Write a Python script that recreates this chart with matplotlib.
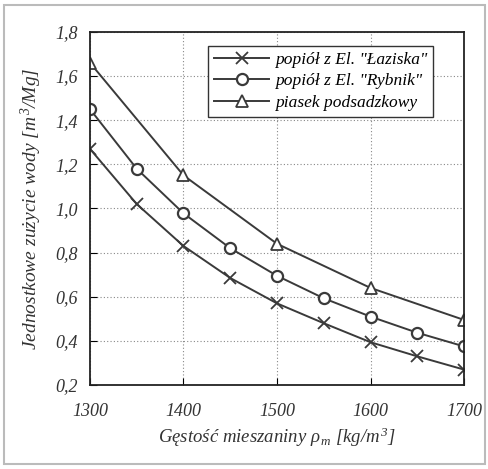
import matplotlib.pyplot as plt
from matplotlib.patches import Rectangle

# gestosc mieszaniny [kg/m3]
rho_ash = [1300, 1350, 1400, 1450, 1500, 1550, 1600, 1650, 1700]
rho_sand = [1300, 1400, 1500, 1600, 1700]

laziska = [1.27, 1.02, 0.83, 0.685, 0.57, 0.48, 0.394, 0.33, 0.27]
rybnik = [1.45, 1.18, 0.978, 0.82, 0.695, 0.593, 0.51, 0.437, 0.375]
piasek = [1.66, 1.15, 0.84, 0.64, 0.495]

labels = ['popiół z El. "Łaziska"', 'popiół z El. "Rybnik"', 'piasek podsadzkowy']
xticks = [1300, 1400, 1500, 1600, 1700]
yticks = [0.2, 0.4, 0.6, 0.8, 1.0, 1.2, 1.4, 1.6, 1.8]

plt.rcParams['font.family'] = ['Liberation Serif', 'DejaVu Serif']
plt.rcParams['mathtext.fontset'] = 'custom'
plt.rcParams['mathtext.it'] = 'Liberation Serif:italic'
plt.rcParams['mathtext.rm'] = 'Liberation Serif:italic'

fig = plt.figure(figsize=(4.89, 4.69), dpi=100)
ax = fig.add_axes([0.184, 0.179, 0.765, 0.753])

col = '#3a3a3a'
ax.plot(rho_ash, laziska, color=col, lw=1.4, marker='x', ms=9, mew=1.3, label=labels[0])
ax.plot(rho_ash, rybnik, color=col, lw=1.4, marker='o', ms=8, mfc='white', mew=1.6, label=labels[1])
ax.plot(rho_sand, piasek, color=col, lw=1.4, marker='^', ms=9, mfc='white', mew=1.3, label=labels[2])

ax.set_xlim(1300, 1700)
ax.set_ylim(0.2, 1.8)
ax.set_xticks(xticks)
ax.set_yticks(yticks)
ax.set_yticklabels([f'{v:.1f}'.replace('.', ',') for v in yticks])
ax.tick_params(direction='in', length=5, labelsize=13)
ax.tick_params(axis='x', pad=13)
ax.tick_params(axis='y', pad=9)
for t in ax.get_xticklabels() + ax.get_yticklabels():
    t.set_fontstyle('italic')
    t.set_color('#333333')
ax.grid(True, ls=(0, (1, 2)), color='#888888', lw=0.8)
for s in ax.spines.values():
    s.set_color('#222222')
    s.set_linewidth(1.3)

ax.set_xlabel(r'Gęstość mieszaniny $\rho_{\,m}$ [kg/m$^{\,3}$]', fontsize=13.5,
              fontstyle='italic', color='#333333', labelpad=4)
ax.set_ylabel(r'Jednostkowe zużycie wody [m$^{\,3}$/Mg]', fontsize=14,
              fontstyle='italic', color='#333333', labelpad=8)

leg = ax.legend(loc='upper right', bbox_to_anchor=(0.94, 0.985), fancybox=False,
                framealpha=1, edgecolor='#333333', prop={'style': 'italic', 'size': 12.5},
                handlelength=3.2, borderpad=0.35, labelspacing=0.3, handletextpad=0.3)
leg.get_frame().set_linewidth(1.0)

fig.patches.append(Rectangle((0.008, 0.01), 0.984, 0.98, transform=fig.transFigure,
                             fill=False, ec='#bbbbbb', lw=1.5))

fig.savefig('out.png', dpi=100)
